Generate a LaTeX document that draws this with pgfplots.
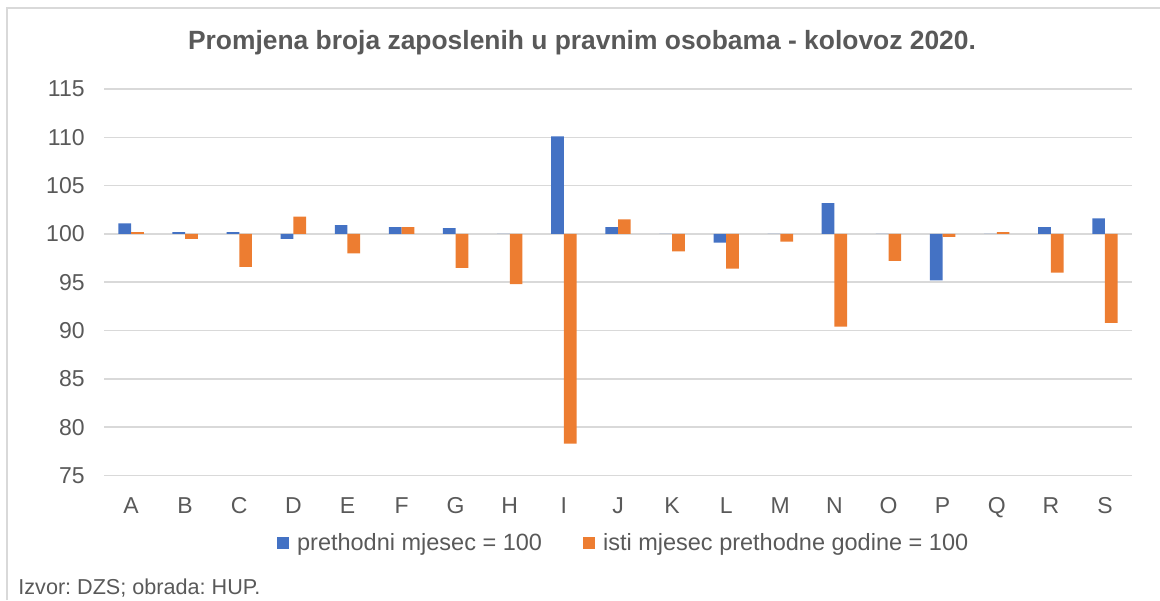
\documentclass[border=0pt]{standalone}
\usepackage{pgfplots}
\pgfplotsset{compat=1.18}
\usepackage{fontspec}
\setmainfont{Liberation Sans}
\frenchspacing
\definecolor{cblue}{HTML}{4472C4}
\definecolor{corange}{HTML}{ED7D31}
\definecolor{cgrid}{HTML}{D9D9D9}
\definecolor{ctext}{HTML}{595959}
\begin{document}
\begin{tikzpicture}
\useasboundingbox (0,0) rectangle (580pt,300pt);
\draw[cgrid, line width=1pt] (3.5pt,0) -- (3.5pt,296pt) -- (580pt,296pt);
\begin{axis}[
  at={(52pt,62.25pt)}, anchor=south west,
  scale only axis, width=514pt, height=193.25pt,
  ybar=0pt, bar width=6.35pt,
  y coord trafo/.code={\pgfmathparse{#1-100}},
  y coord inv trafo/.code={\pgfmathparse{#1+100}},
  ymin=75, ymax=115, ytick={75,80,85,90,95,100,105,110,115},
  xmin=-0.5, xmax=18.5,
  xtick={0,...,18},
  xticklabels={A,B,C,D,E,F,G,H,I,J,K,L,M,N,O,P,Q,R,S},
  axis line style={draw=none},
  tick style={draw=none},
  ymajorgrids, grid style={cgrid, line width=0.75pt},
  /pgf/number format/assume math mode=true,
  /pgf/number format/fixed,
  tick label style={font=\fontsize{11.5}{13}\selectfont, text=ctext},
  yticklabel style={anchor=east, inner sep=0pt, xshift=-9.5pt},
  xticklabel style={anchor=north, inner sep=0pt, yshift=-6.5pt},
  legend columns=2,
  legend style={at={(0.506,-0.1746)}, anchor=center, draw=none, fill=none,
    font=\fontsize{11.75}{13}\selectfont, text=ctext,
    /tikz/every odd column/.append style={column sep=2.5pt},
    /tikz/every even column/.append style={column sep=19pt},
    nodes={inner sep=1.5pt}},
  legend image code/.code={\fill[#1] (0pt,-3pt) rectangle (6pt,3pt);},
]
\addplot[fill=cblue, draw=none] coordinates {
(0,101.1) (1,100.2) (2,100.2) (3,99.5) (4,100.9) (5,100.7) (6,100.6) (7,100.0)
(8,110.1) (9,100.7) (10,100.0) (11,99.1) (12,100.0) (13,103.2) (14,100.0)
(15,95.2) (16,100.0) (17,100.7) (18,101.6)};
\addlegendentry{prethodni mjesec = 100}
\addplot[fill=corange, draw=none] coordinates {
(0,100.2) (1,99.5) (2,96.6) (3,101.8) (4,98.0) (5,100.7) (6,96.5) (7,94.8)
(8,78.3) (9,101.5) (10,98.2) (11,96.4) (12,99.2) (13,90.4) (14,97.2)
(15,99.7) (16,100.2) (17,96.0) (18,90.8)};
\addlegendentry{isti mjesec prethodne godine = 100}
\end{axis}
\node[font=\bfseries\fontsize{13.2}{16}\selectfont, text=ctext] at (291pt,278.5pt) {Promjena broja zaposlenih u pravnim osobama - kolovoz 2020.};
\node[anchor=west, inner sep=0pt, font=\fontsize{10.8}{13}\selectfont, text=ctext] at (9pt,6pt) {Izvor: DZS; obrada: HUP.};
\end{tikzpicture}
\end{document}
